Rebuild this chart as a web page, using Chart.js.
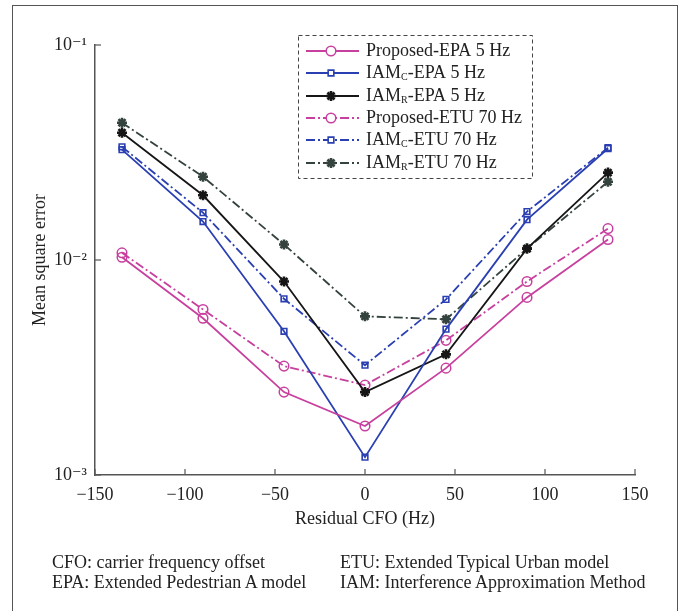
<!DOCTYPE html>
<html>
<head>
<meta charset="utf-8">
<script src="https://cdn.jsdelivr.net/npm/chart.js@4/dist/chart.umd.min.js"></script>
<style>
  body { margin: 0; background: #fff; }
  #wrap { position: relative; width: 679px; height: 611px; overflow: hidden; font-family: "Liberation Serif", "DejaVu Serif", serif; }
  #frame { position: absolute; left: 12px; top: 5px; width: 664px; height: 640px; border: 1.5px solid #555; border-bottom: none; }
  .note { position: absolute; font-size: 18px; line-height: 20px; color: #222; white-space: nowrap; }
  canvas { position: absolute; left: 0; top: 0; }
</style>
</head>
<body>
<div id="wrap">
  <div id="frame"></div>
  <canvas id="myChart" width="679" height="611"></canvas>
  <div class="note" style="left:52px; top:552px">CFO: carrier frequency offset</div>
  <div class="note" style="left:52px; top:572px">EPA: Extended Pedestrian A model</div>
  <div class="note" style="left:340px; top:552px">ETU: Extended Typical Urban model</div>
  <div class="note" style="left:340px; top:572px">IAM: Interference Approximation Method</div>
</div>
<script>
// residual CFO (Hz)
var xs = [-135, -90, -45, 0, 45, 90, 135]

// mean square error
var propEPA = [0.0103, 0.00536, 0.00243, 0.00169, 0.00314, 0.0067, 0.01245]
var iamcEPA = [0.0326, 0.0151, 0.00466, 0.00121, 0.00477, 0.0154, 0.0330]
var iamrEPA = [0.0391, 0.0200, 0.00794, 0.00243, 0.00364, 0.0113, 0.0255]
var propETU = [0.0108, 0.00589, 0.00321, 0.00262, 0.00423, 0.00794, 0.0140]
var iamcETU = [0.0336, 0.0166, 0.0066, 0.00324, 0.00656, 0.0168, 0.0333]
var iamrETU = [0.0435, 0.0244, 0.0118, 0.00547, 0.0053, 0.0113, 0.0231]

// "_X" marks a subscript letter
var names = ['Proposed-EPA 5 Hz', 'IAM_C-EPA 5 Hz', 'IAM_R-EPA 5 Hz',
             'Proposed-ETU 70 Hz', 'IAM_C-ETU 70 Hz', 'IAM_R-ETU 70 Hz']

var xTicks = [-150, -100, -50, 0, 50, 100, 150]
var yTicks = [1e-3, 1e-2, 1e-1]
var yTickLabels = ['10\u207B\u00B3', '10\u207B\u00B2', '10\u207B\u00B9']

var MAGENTA = '#c8409e'
var BLUE = '#2a3fb2'
var BLACK = '#161616'
var DARK = '#34433e'
var DASHDOT = [9, 3, 2, 3]
var serif = '"Liberation Serif", "DejaVu Serif", serif'

function mkSet(i, vals, color, dashed, style, radius, bw) {
  return {
    label: names[i].replace('_', ''),
    data: vals.map((v, k) => ({x: xs[k], y: v})),
    borderColor: color,
    borderWidth: 1.8,
    borderDash: dashed ? DASHDOT : [],
    pointStyle: style,
    pointRadius: radius,
    pointBorderWidth: bw,
    pointBorderColor: color,
    pointBackgroundColor: 'rgba(255,255,255,0)',
    tension: 0,
    fill: false
  }
}

var datasets = [
  mkSet(0, propEPA, MAGENTA, false, 'circle', 4.8, 1.5),
  mkSet(1, iamcEPA, BLUE, false, 'rect', 4, 1.6),
  mkSet(2, iamrEPA, BLACK, false, 'star', 5, 2.6),
  mkSet(3, propETU, MAGENTA, true, 'circle', 4.8, 1.5),
  mkSet(4, iamcETU, BLUE, true, 'rect', 4, 1.6),
  mkSet(5, iamrETU, DARK, true, 'star', 5, 2.6)
]

// short ticks drawn inside the plot, like the original
var innerTicks = {
  id: 'innerTicks',
  afterDraw(chart) {
    const ctx = chart.ctx, a = chart.chartArea
    const xs_ = chart.scales.x, ys_ = chart.scales.y
    ctx.save()
    ctx.strokeStyle = '#555'
    ctx.lineWidth = 1.2
    xTicks.forEach((t) => {
      const px = xs_.getPixelForValue(t)
      ctx.beginPath(); ctx.moveTo(px, a.bottom); ctx.lineTo(px, a.bottom - 6); ctx.stroke()
    })
    yTicks.forEach((t) => {
      const py = ys_.getPixelForValue(t)
      ctx.beginPath(); ctx.moveTo(a.left, py); ctx.lineTo(a.left + 6, py); ctx.stroke()
    })
    ctx.restore()
  }
}

// boxed legend with subscripts
var boxLegend = {
  id: 'boxLegend',
  afterDraw(chart) {
    const ctx = chart.ctx
    const bx = 298, by = 35, bw = 234, bh = 143
    ctx.save()
    ctx.setLineDash([4, 3])
    ctx.strokeStyle = '#444'
    ctx.lineWidth = 1
    ctx.strokeRect(bx + 0.5, by + 0.5, bw, bh)
    var rows = [51, 73, 96, 118, 140, 163]
    chart.data.datasets.forEach((ds, i) => {
      const y = rows[i]
      ctx.setLineDash(ds.borderDash)
      ctx.strokeStyle = ds.borderColor
      ctx.lineWidth = 1.8
      ctx.beginPath(); ctx.moveTo(306, y); ctx.lineTo(359, y); ctx.stroke()
      ctx.setLineDash([])
      ctx.lineWidth = ds.pointBorderWidth
      ctx.fillStyle = '#fff'
      Chart.helpers.drawPoint(ctx, {pointStyle: ds.pointStyle, radius: ds.pointRadius, borderWidth: ds.pointBorderWidth, rotation: 0}, 331, y)
      // text
      let x = 366
      ctx.fillStyle = '#222'
      ctx.textBaseline = 'middle'
      const parts = names[i].split('_')
      ctx.font = '18px ' + serif
      ctx.fillText(parts[0], x, y)
      x += ctx.measureText(parts[0]).width
      if (parts.length > 1) {
        ctx.font = '10px ' + serif
        ctx.fillText(parts[1][0], x, y + 4)
        x += ctx.measureText(parts[1][0]).width
        ctx.font = '18px ' + serif
        ctx.fillText(parts[1].slice(1), x, y)
      }
    })
    ctx.restore()
  }
}

var ctx = document.getElementById('myChart')
var chart = new Chart(ctx, {
  type: 'line',
  data: { datasets: datasets },
  plugins: [innerTicks, boxLegend],
  options: {
    responsive: false,
    animation: false,
    layout: { padding: { left: 12, top: 45, right: 44, bottom: 81 } },
    scales: {
      x: {
        type: 'linear',
        min: -150,
        max: 150,
        afterBuildTicks: (s) => { s.ticks = xTicks.map((v) => ({value: v})) },
        afterFit: (s) => { s.height = 55 },
        ticks: {
          color: '#222',
          padding: 9,
          font: { family: serif, size: 18 },
          callback: (v) => String(v).replace('-', '\u2212')
        },
        grid: { drawOnChartArea: false, drawTicks: false },
        border: { color: '#555', width: 1.5 },
        title: { display: true, text: 'Residual CFO (Hz)', color: '#222', padding: { top: 0, bottom: 0 }, font: { family: serif, size: 18 } }
      },
      y: {
        type: 'logarithmic',
        min: 1e-3,
        max: 1e-1,
        afterBuildTicks: (s) => { s.ticks = yTicks.map((v) => ({value: v})) },
        afterFit: (s) => { s.width = 83 },
        ticks: {
          color: '#222',
          padding: 8,
          font: { family: serif, size: 18 },
          callback: (v) => yTickLabels[yTicks.indexOf(v)]
        },
        grid: { drawOnChartArea: false, drawTicks: false },
        border: { color: '#555', width: 1.5 },
        title: { display: true, text: 'Mean square error', color: '#222', padding: { top: 17, bottom: 0 }, font: { family: serif, size: 18 } }
      }
    },
    plugins: {
      legend: { display: false },
      tooltip: { enabled: false }
    }
  }
})
</script>
</body>
</html>
